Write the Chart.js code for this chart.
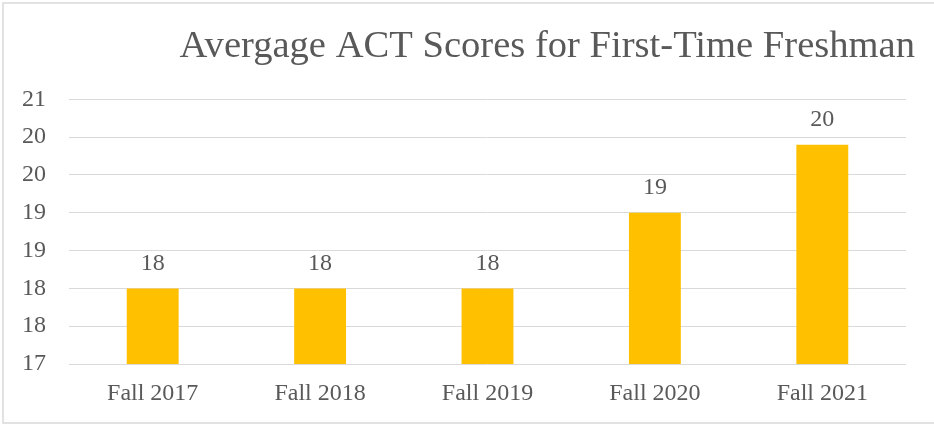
<!DOCTYPE html>
<html>
<head>
<meta charset="utf-8">
<script src="https://cdn.jsdelivr.net/npm/chart.js@4/dist/chart.umd.min.js"></script>
<style>
html,body{margin:0;padding:0;background:#fff;}
#wrap{width:934px;height:425px;position:relative;}
</style>
</head>
<body>
<div id="wrap"><canvas id="c" width="934" height="425"></canvas></div>
<script>
const categories = ["Fall 2017", "Fall 2018", "Fall 2019", "Fall 2020", "Fall 2021"];
const scores = [18.0, 18.0, 18.0, 19.0, 19.9];
const titleText = "Avergage ACT Scores for First-Time Freshman";

const FONT = "'Liberation Serif', 'DejaVu Serif', serif";
const TEXT = "#595959";

const borderPlugin = {
  id: 'outerBorder',
  beforeDraw(chart) {
    const ctx = chart.ctx;
    ctx.save();
    ctx.fillStyle = '#fff';
    ctx.fillRect(0, 0, chart.width, chart.height);
    ctx.strokeStyle = '#d9d9d9';
    ctx.lineWidth = 1.5;
    ctx.strokeRect(3, 3, chart.width + 10, chart.height - 5);
    ctx.restore();
  }
};

const labelPlugin = {
  id: 'barLabels',
  afterDatasetsDraw(chart) {
    const ctx = chart.ctx;
    const meta = chart.getDatasetMeta(0);
    ctx.save();
    ctx.font = "24px " + FONT;
    ctx.fillStyle = TEXT;
    ctx.textAlign = 'center';
    ctx.textBaseline = 'middle';
    meta.data.forEach((el, i) => {
      ctx.fillText(String(Math.round(scores[i])), el.x, el.y - 25);
    });
    ctx.restore();
  }
};

new Chart(document.getElementById('c'), {
  type: 'bar',
  data: {
    labels: categories,
    datasets: [{
      data: scores,
      backgroundColor: '#FFC000',
      borderWidth: 0,
      barPercentage: 0.31,
      categoryPercentage: 1.0
    }]
  },
  options: {
    responsive: false,
    animation: false,
    layout: { padding: { left: 0, right: 19, top: 24, bottom: 0 } },
    plugins: {
      legend: { display: false },
      tooltip: { enabled: false },
      title: {
        display: true,
        text: titleText,
        align: 'end',
        color: TEXT,
        font: { family: FONT, size: 38.6, weight: 'normal' },
        padding: { top: 0, bottom: 29 }
      }
    },
    scales: {
      x: {
        grid: { display: false, drawTicks: false },
        border: { display: false },
        ticks: { color: TEXT, font: { family: FONT, size: 24 }, padding: 15 },
        afterFit(scale) { scale.height = 61; }
      },
      y: {
        min: 17,
        max: 20.5,
        border: { display: false },
        grid: { color: '#d9d9d9', lineWidth: 1, drawTicks: false },
        ticks: {
          stepSize: 0.5,
          color: TEXT,
          padding: 23,
          font: { family: FONT, size: 24 },
          callback: (v) => String(Math.round(v))
        },
        afterFit(scale) { scale.width = 69; }
      },
      y2: {
        type: 'linear',
        position: 'right',
        display: true,
        grid: { display: false, drawTicks: false },
        border: { display: false },
        ticks: { display: false },
        afterFit(scale) { scale.width = 9; }
      }
    }
  },
  plugins: [borderPlugin, labelPlugin]
});
</script>
</body>
</html>
